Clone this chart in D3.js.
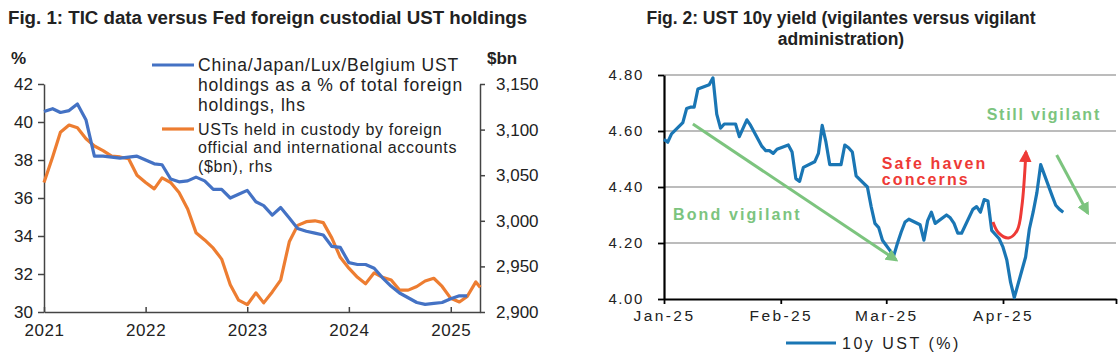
<!DOCTYPE html>
<html>
<head>
<meta charset="utf-8">
<script src="https://cdn.jsdelivr.net/npm/d3@7"></script>
<style>
  body { margin: 0; background: #fff; }
  svg { display: block; font-family: "Liberation Sans", Arial, sans-serif; }
</style>
</head>
<body>
<div id="chart"></div>
<script>
// ---- Fig. 1 data (monthly, Jan 2021 onwards) ----
const FIG1_START = [2021, 0];
const CJLB_SHARE = [
  40.55, 40.7, 40.5, 40.6, 40.95, 40.1, 38.2, 38.2, 38.15, 38.1, 38.15, 38.2,
  38.0, 37.8, 37.75, 37.0, 36.85, 36.9, 37.1, 36.9, 36.45, 36.45, 36.0, 36.2,
  36.4, 35.8, 35.6, 35.1, 35.5, 34.95, 34.4, 34.25, 34.15, 34.05, 33.45, 33.4,
  32.6, 32.5, 32.5, 32.3, 31.8, 31.35, 31.0, 30.75, 30.5, 30.4, 30.45, 30.5,
  30.7, 30.85, 30.85
];
const CUSTODY_BN = [
  3042, 3070, 3097, 3105, 3102, 3090, 3082, 3077, 3071, 3070, 3068, 3050,
  3042, 3035, 3047, 3042, 3031, 3013, 2987, 2979, 2970, 2958, 2930, 2913,
  2908, 2921, 2910, 2922, 2935, 2977, 2995, 2999, 3000, 2998, 2981, 2960,
  2948, 2938, 2931, 2943, 2938, 2935, 2924, 2924, 2928, 2934, 2937, 2928,
  2915, 2911, 2917, 2933, 2927
];
// last custody reading is mid-month (latest print)
const CUSTODY_LAST_DAY = 16;
const FIG1_YEARS = [2021, 2022, 2023, 2024, 2025];
const LHS_TICKS = [30, 32, 34, 36, 38, 40, 42];
const RHS_TICKS = [2900, 2950, 3000, 3050, 3100, 3150];

// ---- Fig. 2 data (daily 10y UST yield, 2025) ----
const UST_DATES = [
  "2025-01-01","2025-01-02","2025-01-03","2025-01-06","2025-01-07","2025-01-08","2025-01-09","2025-01-10",
  "2025-01-13","2025-01-14","2025-01-15","2025-01-16","2025-01-17","2025-01-20","2025-01-21","2025-01-22",
  "2025-01-23","2025-01-24","2025-01-27","2025-01-28","2025-01-29","2025-01-30","2025-01-31",
  "2025-02-03","2025-02-04","2025-02-05","2025-02-06","2025-02-07","2025-02-10","2025-02-11","2025-02-12",
  "2025-02-13","2025-02-14","2025-02-17","2025-02-18","2025-02-19","2025-02-20","2025-02-21","2025-02-24",
  "2025-02-25","2025-02-26","2025-02-27","2025-02-28",
  "2025-03-03","2025-03-04","2025-03-05","2025-03-06","2025-03-07","2025-03-10","2025-03-11","2025-03-12",
  "2025-03-13","2025-03-14","2025-03-17","2025-03-18","2025-03-19","2025-03-20","2025-03-21","2025-03-24",
  "2025-03-25","2025-03-26","2025-03-27","2025-03-28","2025-03-29","2025-03-31",
  "2025-04-01","2025-04-02","2025-04-03","2025-04-04","2025-04-07","2025-04-08","2025-04-09","2025-04-10",
  "2025-04-11","2025-04-14","2025-04-15","2025-04-16","2025-04-17"
];
const UST_10Y = [
  4.57, 4.56, 4.59, 4.63, 4.68, 4.685, 4.685, 4.75,
  4.765, 4.79, 4.66, 4.61, 4.625, 4.625, 4.58, 4.61,
  4.64, 4.62, 4.545, 4.53, 4.53, 4.52, 4.535,
  4.55, 4.525, 4.43, 4.42, 4.47, 4.49, 4.52, 4.62,
  4.56, 4.48, 4.48, 4.55, 4.54, 4.525, 4.44, 4.40,
  4.33, 4.27, 4.255, 4.21,
  4.155, 4.20, 4.24, 4.275, 4.285, 4.265, 4.21, 4.28,
  4.31, 4.27, 4.30, 4.29, 4.27, 4.235, 4.235, 4.32,
  4.33, 4.31, 4.355, 4.35, 4.245, 4.215,
  4.185, 4.14, 4.06, 4.005, 4.15, 4.25, 4.31, 4.38,
  4.48, 4.37, 4.335, 4.32, 4.31
];
const FIG2_MONTHS = ["2025-01-01", "2025-02-01", "2025-03-01", "2025-04-01", "2025-05-01"];
const FIG2_MONTH_LABELS = ["Jan-25", "Feb-25", "Mar-25", "Apr-25"];
const YIELD_TICKS = [4.0, 4.2, 4.4, 4.6, 4.8];

// annotation anchors in data terms [date, yield]
const BOND_ARROW = [["2025-01-08T16:00", 4.625], ["2025-03-03T16:00", 4.139]];
const STILL_ARROW = [["2025-04-15T06:00", 4.514], ["2025-04-23T12:00", 4.307]];
const SAFE_CURVE = [["2025-03-29T08:00", 4.275], ["2025-03-30T20:00", 4.236], ["2025-04-02T12:00", 4.218],
                    ["2025-04-04T18:00", 4.245], ["2025-04-06T00:00", 4.33], ["2025-04-07T02:00", 4.525]];

const BLUE1 = "#4472c4", ORANGE1 = "#ed7d31";
const BLUE2 = "#1a76b4", GREEN = "#7cc47e", RED = "#ee3a36";

const parse = d3.isoParse;
const svg = d3.select("#chart").append("svg")
  .attr("width", 1118).attr("height", 358);

const defs = svg.append("defs");
function arrowMarker(id, color) {
  defs.append("marker")
    .attr("id", id)
    .attr("viewBox", "0 0 10 10")
    .attr("refX", 8).attr("refY", 5)
    .attr("markerWidth", 4.2).attr("markerHeight", 4.2)
    .attr("orient", "auto")
    .append("path")
      .attr("d", "M0,0 L10,5 L0,10 z")
      .attr("fill", color);
}
arrowMarker("arrGreen", GREEN);
arrowMarker("arrRed", RED);

// =============== Fig. 1 ===============
function drawFig1() {
  const g = svg.append("g");
  const left = 44, right = 480, top = 84, bottom = 312;

  const months1 = CUSTODY_BN.map((d, i) =>
    i === CUSTODY_BN.length - 1
      ? new Date(FIG1_START[0], FIG1_START[1] + i - 1, CUSTODY_LAST_DAY + 1)
      : new Date(FIG1_START[0], FIG1_START[1] + i, 1));
  const x = d3.scaleTime()
    .domain([new Date(2021, 0, 1), new Date(2025, 3, 16)])
    .range([left, right]);
  const yL = d3.scaleLinear().domain([30, 42]).range([bottom, top]);
  const yR = d3.scaleLinear().domain([2900, 3150]).range([bottom, top]);

  g.append("text")
    .attr("x", 8).attr("y", 24)
    .attr("font-size", 18.7).attr("font-weight", "bold").attr("fill", "#222")
    .text("Fig. 1: TIC data versus Fed foreign custodial UST holdings");

  g.append("text").attr("x", 11).attr("y", 64)
    .attr("font-size", 17).attr("font-weight", "bold").attr("fill", "#222").text("%");
  g.append("text").attr("x", 487).attr("y", 64)
    .attr("font-size", 17).attr("font-weight", "bold").attr("fill", "#222").text("$bn");

  const axisColor = "#444";

  const ax = g.append("g")
    .attr("transform", "translate(0," + bottom + ")")
    .call(d3.axisBottom(x)
      .tickValues(FIG1_YEARS.map(yr => new Date(yr, 0, 1)))
      .tickFormat(d3.timeFormat("%Y"))
      .tickSizeInner(-5).tickSizeOuter(0).tickPadding(12));
  const ay = g.append("g")
    .attr("transform", "translate(" + left + ",0)")
    .call(d3.axisLeft(yL).tickValues(LHS_TICKS).tickSizeInner(6).tickSizeOuter(0).tickPadding(5));
  const ar = g.append("g")
    .attr("transform", "translate(" + right + ",0)")
    .call(d3.axisRight(yR).tickValues(RHS_TICKS).tickFormat(d3.format(",")).tickSizeInner(5).tickSizeOuter(0).tickPadding(11));

  [ax, ay, ar].forEach(a => {
    a.select(".domain").attr("stroke", axisColor).attr("stroke-width", 1.5);
    a.selectAll(".tick line").attr("stroke", axisColor).attr("stroke-width", 1.5);
    a.selectAll("text").attr("font-size", 17).attr("fill", "#222")
      .attr("font-family", "Liberation Sans, Arial, sans-serif");
  });
  ax.selectAll("text").attr("letter-spacing", "0.6px");

  const lineL = d3.line().x((d, i) => x(months1[i])).y(d => yL(d));
  const lineR = d3.line().x((d, i) => x(months1[i])).y(d => yR(d));

  g.append("path").datum(CUSTODY_BN)
    .attr("d", lineR).attr("fill", "none")
    .attr("stroke", ORANGE1).attr("stroke-width", 3.2).attr("stroke-linejoin", "round");
  g.append("path").datum(CJLB_SHARE)
    .attr("d", lineL).attr("fill", "none")
    .attr("stroke", BLUE1).attr("stroke-width", 3.2).attr("stroke-linejoin", "round");

  // legend
  const legend = [
    { color: BLUE1, y: 65, x1: 152, size: 17.5, ls: 0.8, lines: ["China/Japan/Lux/Belgium UST", "holdings as a % of total foreign", "holdings, lhs"] },
    { color: ORANGE1, y: 129, x1: 162, size: 16, ls: 0.65, lines: ["USTs held in custody by foreign", "official and international accounts", "($bn), rhs"] }
  ];
  legend.forEach(l => {
    g.append("line")
      .attr("x1", l.x1).attr("x2", 194)
      .attr("y1", l.y).attr("y2", l.y)
      .attr("stroke", l.color).attr("stroke-width", 3.2);
    const t = g.append("text")
      .attr("x", 198).attr("y", l.y + 6)
      .attr("font-size", l.size).attr("letter-spacing", l.ls + "px").attr("fill", "#222");
    l.lines.forEach((s, i) => {
      t.append("tspan").attr("x", 198).attr("dy", i === 0 ? 0 : l.size * 1.15).text(s);
    });
  });
}

// =============== Fig. 2 ===============
function drawFig2() {
  const g = svg.append("g");
  const left = 664, right = 1116, top = 75, bottom = 299;

  const x = d3.scaleTime()
    .domain([parse(FIG2_MONTHS[0]), parse(FIG2_MONTHS[FIG2_MONTHS.length - 1])])
    .range([left, right]);
  const y = d3.scaleLinear().domain([4.0, 4.8]).range([bottom, top]);

  const title = g.append("text")
    .attr("x", 841).attr("y", 24)
    .attr("text-anchor", "middle")
    .attr("font-size", 17.5).attr("font-weight", "bold").attr("fill", "#222");
  title.append("tspan").attr("x", 841).text("Fig. 2: UST 10y yield (vigilantes versus vigilant");
  title.append("tspan").attr("x", 841).attr("dy", 21).text("administration)");

  // gridlines
  g.append("g").selectAll("line")
    .data(YIELD_TICKS.slice(1))
    .join("line")
      .attr("x1", left).attr("x2", right)
      .attr("y1", d => y(d)).attr("y2", d => y(d))
      .attr("stroke", "#a6a6a6").attr("stroke-width", 1.5);

  const ay = g.append("g")
    .attr("transform", "translate(" + left + ",0)")
    .call(d3.axisLeft(y).tickValues(YIELD_TICKS).tickFormat(d3.format(".2f"))
      .tickSizeInner(6).tickSizeOuter(0).tickPadding(14));
  const ax = g.append("g")
    .attr("transform", "translate(0," + bottom + ")")
    .call(d3.axisBottom(x).tickValues(FIG2_MONTHS.map(parse))
      .tickFormat((d, i) => FIG2_MONTH_LABELS[i] || "")
      .tickSizeInner(5).tickSizeOuter(0).tickPadding(6));
  [ay, ax].forEach(a => {
    a.select(".domain").attr("stroke", "#000").attr("stroke-width", 2.2);
    a.selectAll(".tick line").attr("stroke", "#000").attr("stroke-width", 1.8);
    a.selectAll("text").attr("font-size", 15).attr("fill", "#222")
      .attr("letter-spacing", "1.6px")
      .attr("font-family", "Liberation Sans, Arial, sans-serif");
  });
  ax.selectAll("text").attr("font-size", 15.5).attr("letter-spacing", "2.4px");

  const line = d3.line()
    .x((d, i) => x(parse(UST_DATES[i])))
    .y(d => y(d));
  g.append("path").datum(UST_10Y)
    .attr("d", line).attr("fill", "none")
    .attr("stroke", BLUE2).attr("stroke-width", 3.2).attr("stroke-linejoin", "round");

  // annotations
  const pt = d => [x(parse(d[0])), y(d[1])];
  const straight = d3.line();
  g.append("path").attr("d", straight(BOND_ARROW.map(pt)))
    .attr("stroke", GREEN).attr("stroke-width", 3).attr("fill", "none")
    .attr("marker-end", "url(#arrGreen)");
  g.append("path").attr("d", straight(STILL_ARROW.map(pt)))
    .attr("stroke", GREEN).attr("stroke-width", 3).attr("fill", "none")
    .attr("marker-end", "url(#arrGreen)");
  g.append("path").attr("d", d3.line().curve(d3.curveCatmullRom)(SAFE_CURVE.map(pt)))
    .attr("stroke", RED).attr("stroke-width", 3).attr("fill", "none")
    .attr("marker-end", "url(#arrRed)");

  const note = (txt, d, color, ls) => g.append("text")
    .attr("x", x(parse(d[0]))).attr("y", y(d[1]))
    .attr("font-size", 16).attr("font-weight", "bold")
    .attr("letter-spacing", (ls || 2.1) + "px").attr("fill", color).text(txt);
  note("Bond vigilant", ["2025-01-03T10:00", 4.282], GREEN);
  note("Still vigilant", ["2025-03-27T16:00", 4.639], GREEN, 1.75);
  note("Safe haven", ["2025-02-27T20:00", 4.464], RED);
  note("concerns", ["2025-02-27T20:00", 4.407], RED);

  // legend
  g.append("line")
    .attr("x1", 786).attr("x2", 836).attr("y1", 343).attr("y2", 343)
    .attr("stroke", BLUE2).attr("stroke-width", 3.2);
  g.append("text").attr("x", 842).attr("y", 349)
    .attr("font-size", 16).attr("letter-spacing", "2.5px").attr("fill", "#222")
    .text("10y UST (%)");
}

drawFig1();
drawFig2();
</script>
</body>
</html>
